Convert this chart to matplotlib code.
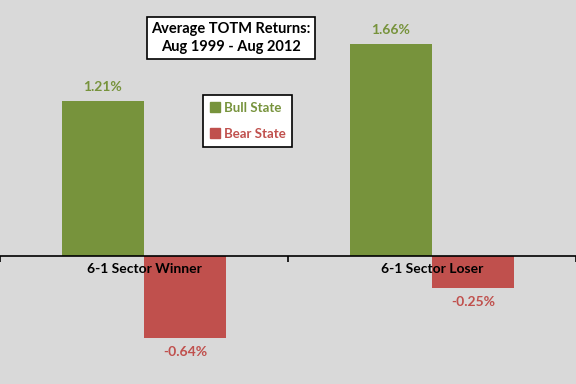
import numpy as np
import matplotlib.pyplot as plt
from matplotlib.lines import Line2D

categories = ['6-1 Sector Winner', '6-1 Sector Loser']
bull = [1.21, 1.66]
bear = [-0.64, -0.25]

green = '#77933C'
red = '#C0504D'
bg = '#D9D9D9'

plt.rcParams['font.family'] = ['Lato', 'DejaVu Sans']

fig = plt.figure(figsize=(5.76, 3.84), dpi=100)
fig.patch.set_facecolor(bg)
ax = fig.add_axes([0, 0, 1, 1])
ax.set_facecolor(bg)

x = np.arange(len(categories)) + 0.5
w = 0.285
ax.bar(x - w / 2, bull, w, color=green, zorder=2)
ax.bar(x + w / 2, bear, w, color=red, zorder=2)

for xi, v in zip(x - w / 2, bull):
    ax.text(xi, v + 0.06, '{:.2f}%'.format(v), ha='center', va='bottom',
            color=green, fontsize=10, fontweight='bold')
for xi, v in zip(x + w / 2, bear):
    ax.text(xi, v - 0.06, '{:.2f}%'.format(v), ha='center', va='top',
            color=red, fontsize=10, fontweight='bold')

for xi, c in zip(x, categories):
    ax.text(xi, -0.055, c, ha='center', va='top', fontsize=10, fontweight='bold')

ax.set_xlim(0, 2)
ax.set_ylim(-1, 2)
for s in ['top', 'left', 'right']:
    ax.spines[s].set_visible(False)
ax.spines['bottom'].set_position(('data', 0))
ax.spines['bottom'].set_linewidth(1.2)
ax.spines['bottom'].set_zorder(3)
ax.set_xticks([0, 1, 2])
ax.set_xticklabels([])
ax.tick_params(axis='x', direction='out', length=4, width=1.2)
ax.set_yticks([])

ax.text(231 / 576, 1 - 38 / 384, 'Average TOTM Returns:\nAug 1999 - Aug 2012',
        transform=ax.transAxes, ha='center', va='center', fontsize=10.5,
        fontweight='bold', linespacing=1.45,
        bbox=dict(boxstyle='square,pad=0.3', facecolor='white', edgecolor='black', linewidth=1.2))

handles = [Line2D([], [], marker='s', linestyle='', color=green, markersize=7),
           Line2D([], [], marker='s', linestyle='', color=red, markersize=7)]
leg = ax.legend(handles, ['Bull State', 'Bear State'], loc='upper left',
                bbox_to_anchor=(203 / 576, 1 - 95 / 384), borderaxespad=0,
                frameon=True, fancybox=False, edgecolor='black', facecolor='white',
                handlelength=0.8, handletextpad=0.3, labelspacing=1.1,
                borderpad=0.5, prop=dict(weight='bold', size=9.5))
leg.get_frame().set_linewidth(1.2)
leg.get_frame().set_alpha(1)
for t, c in zip(leg.get_texts(), [green, red]):
    t.set_color(c)

fig.savefig('out.png', dpi=100, facecolor=bg)
